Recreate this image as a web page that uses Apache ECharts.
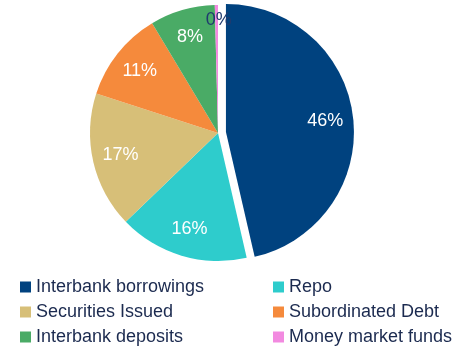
<!DOCTYPE html>
<html>
<head>
<meta charset="utf-8">
<script src="https://cdn.jsdelivr.net/npm/echarts@6/dist/echarts.min.js"></script>
<style>
  html, body { margin: 0; padding: 0; background: #fff; }
  #chart { width: 458px; height: 350px; }
</style>
</head>
<body>
<div id="chart"></div>
<script>
// funding mix
var names = ['Interbank borrowings', 'Repo', 'Securities Issued', 'Subordinated Debt', 'Interbank deposits', 'Money market funds'];
var shares = [46.4, 16.4, 17.2, 11.4, 8.2, 0.4];
var colors = ['#00427f', '#2ecccc', '#d7bf78', '#f58a3c', '#4aab66', '#f28ae0'];

var font = 'Liberation Sans, Arial, sans-serif';
var navy = '#1b2a4f';

var chart = echarts.init(document.getElementById('chart'));

function items(labelled) {
  return names.map(function (n, i) {
    var d = { name: n, value: shares[i], selected: i === 0 };
    if (labelled && i === 5) {
      d.label = { color: '#1f3a6e', offset: [2, -13] };
    }
    return d;
  });
}

function legendCol(x, list) {
  return {
    orient: 'vertical',
    left: x, top: 278,
    height: 72,
    padding: 0,
    itemWidth: 11, itemHeight: 11, itemGap: 7,
    icon: 'rect',
    data: list,
    textStyle: { fontFamily: font, fontSize: 18, color: navy }
  };
}

var option = {
  color: colors,
  animation: false,
  legend: [
    legendCol(20, [names[0], names[2], names[4]]),
    legendCol(273, [names[1], names[3], names[5]])
  ],
  series: [{
    type: 'pie',
    center: [218, 133],
    radius: [0, 128],
    startAngle: 90,
    selectedMode: 'single',
    selectedOffset: 8,
    label: { show: false },
    labelLine: { show: false },
    emphasis: { disabled: true },
    data: items(false)
  }, {
    // transparent ring only to push the percent labels outward
    type: 'pie',
    silent: true,
    center: [218, 133],
    radius: [66, 128],
    startAngle: 90,
    selectedMode: 'single',
    selectedOffset: 8,
    itemStyle: { color: 'transparent' },
    label: {
      show: true,
      position: 'inside',
      formatter: function (p) { return Math.round(p.value) + '%'; },
      color: '#fff',
      fontFamily: font,
      fontSize: 18
    },
    labelLine: { show: false },
    emphasis: { disabled: true },
    data: items(true)
  }]
};

chart.setOption(option);
</script>
</body>
</html>
